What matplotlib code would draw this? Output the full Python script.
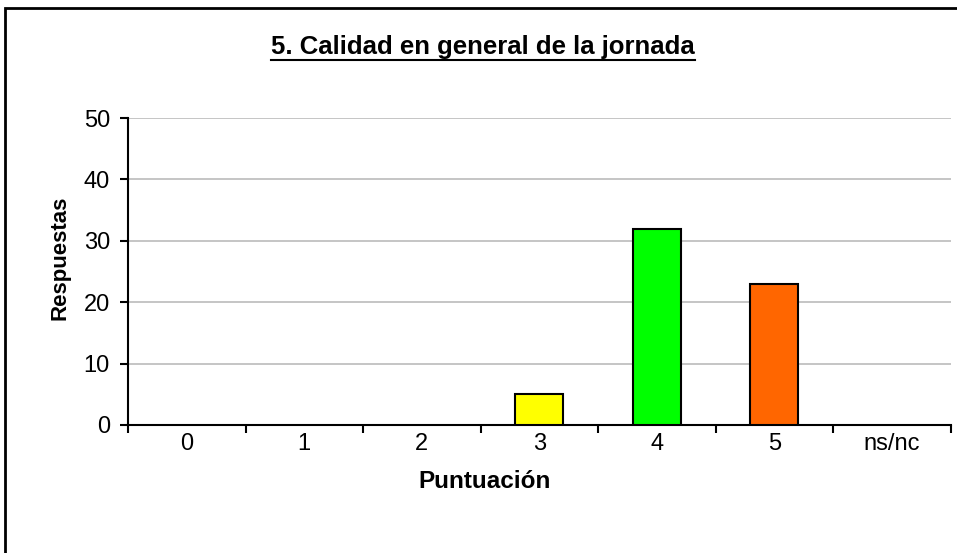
import matplotlib
matplotlib.use('Agg')
import matplotlib.pyplot as plt
from matplotlib.patches import Rectangle
from matplotlib.lines import Line2D

plt.rcParams['font.family'] = ['Liberation Sans', 'DejaVu Sans']

# datos
categorias = ['0', '1', '2', '3', '4', '5', 'ns/nc']
respuestas = [0, 0, 0, 5, 32, 23, 0]
colores = ['#ffffff', '#ffffff', '#ffffff', '#ffff00', '#00ff00', '#ff6600', '#ffffff']

fig = plt.figure(figsize=(9.57, 5.53), dpi=100)
ax = fig.add_axes([0.1338, 0.2315, 0.8595, 0.5551])

x = list(range(len(categorias)))
for i in x:
    if respuestas[i] > 0:
        ax.bar(i, respuestas[i], width=0.41, color=colores[i],
               edgecolor='black', linewidth=1.5, zorder=3)

ax.set_xlim(-0.5, len(categorias) - 0.5)
ax.set_ylim(0, 50)
ax.set_yticks([0, 10, 20, 30, 40, 50])
ax.yaxis.grid(True, color='#c0c0c0', linewidth=1.3, zorder=0)

# ticks de categoria en los bordes
ax.set_xticks([i - 0.5 for i in x] + [len(x) - 0.5])
ax.set_xticklabels([])
ax.set_xticks(x, minor=True)
ax.set_xticklabels(categorias, minor=True, fontsize=17)
ax.tick_params(axis='x', which='minor', length=0, pad=6)
ax.tick_params(axis='x', which='major', length=6, width=1.5, direction='out')
ax.tick_params(axis='y', length=6, width=1.5, direction='out', labelsize=17, pad=7)

for s in ['top', 'right']:
    ax.spines[s].set_visible(False)
ax.spines['left'].set_linewidth(1.5)
ax.spines['bottom'].set_linewidth(1.5)

# etiquetas de ejes
fig.text(60 / 957, 1 - 258 / 553, 'Respuestas', fontsize=16, fontweight='bold',
         rotation=90, ha='center', va='center')
fig.text(485 / 957, 1 - 482 / 553, 'Puntuación', fontsize=17.5, fontweight='bold',
         ha='center', va='center')

# titulo subrayado
t = fig.text(483 / 957, 1 - 47 / 553, '5. Calidad en general de la jornada',
             fontsize=18.5, fontweight='bold', ha='center', va='center')
fig.canvas.draw()
bb = t.get_window_extent().transformed(fig.transFigure.inverted())
fig.add_artist(Line2D([bb.x0, bb.x1], [bb.y0 - 0.002, bb.y0 - 0.002],
                      transform=fig.transFigure, color='black', linewidth=1.5))

# marco exterior
fig.add_artist(Rectangle((5 / 957, -0.05), 1.1, 1 - 8 / 553 + 0.05,
                         transform=fig.transFigure, fill=False,
                         edgecolor='black', linewidth=2))

fig.savefig('out.png', dpi=100)
